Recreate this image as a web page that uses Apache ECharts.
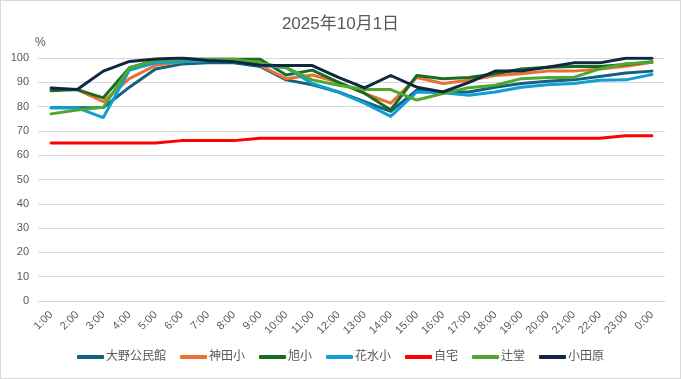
<!DOCTYPE html>
<html><head><meta charset="utf-8">
<script src="https://cdn.jsdelivr.net/npm/echarts@6/dist/echarts.min.js"></script>
<style>html,body{margin:0;padding:0;background:#fff}#c{width:681px;height:379px;box-sizing:border-box;border:1px solid #d9d9d9}</style>
</head><body><div id="c"></div>
<script>
const categories = ['1:00','2:00','3:00','4:00','5:00','6:00','7:00','8:00','9:00','10:00','11:00','12:00','13:00','14:00','15:00','16:00','17:00','18:00','19:00','20:00','21:00','22:00','23:00','0:00'];
const yTicks = [0,10,20,30,40,50,60,70,80,90,100];
const ono     = [79.5,79.5,79.6,88,95.5,97.5,98,98,96.5,91,89,86,82,78,86.8,86,86,88,89.5,90.4,91,92.4,93.8,94.6];
const kanda   = [87,87,82,91.5,97,98.5,99,99,97,91.5,93,90,85.4,81.4,92,89.5,90.8,92.8,93.5,94.6,94.6,95.5,96.6,98.2];
const asahi   = [86.5,87,83.6,96,99,99.5,99.5,99.5,99.5,93,95,90,85.5,78.6,92.8,91.5,92,93.5,95.5,96.2,96.5,96.5,97.3,98.5];
const hanamizu= [79.5,79.5,75.5,95,98,98.5,99,98.5,97,96,89.5,86,81.4,76,86,85.7,84.7,86,88,89,89.5,90.8,91,93.2];
const home    = [65,65,65,65,65,66,66,66,67,67,67,67,67,67,67,67,67,67,67,67,67,67,68,68];
const tsujido = [77,78.6,79.7,96,99,99.5,99.5,99.5,98,96,91,88.8,87,87,82.7,85.4,87.8,88.8,91.5,92,92,95.5,97.6,98.2];
const odawara = [87.7,87,94.6,98.6,99.6,100,99,98.5,97,96.9,96.9,92,87.7,92.8,88,86,90,94.6,94.6,96.2,98,98,99.9,99.9];

const names = ['大野公民館','神田小','旭小','花水小','自宅','辻堂','小田原'];
const datas = [ono,kanda,asahi,hanamizu,home,tsujido,odawara];
const colors = ['#156082','#E97132','#196B24','#0F9ED5','#FF0000','#4EA72E','#0E2841'];
const chart = echarts.init(document.getElementById('c'), null, {renderer:'canvas'});
const font = 'Liberation Sans, Noto Sans CJK JP, sans-serif';
chart.setOption({
  animation:false,
  color: colors,
  title:{text:'2025年10月1日', left:'center', top:10, textStyle:{fontFamily:font, fontSize:17, fontWeight:'normal', color:'#595959'}},
  grid:{left:37, right:15, top:57, bottom:77, containLabel:false},
  legend:{bottom:10, left:'center', itemWidth:27, itemHeight:4, itemGap:14, icon:'roundRect',
    textStyle:{fontFamily:font, fontSize:12, color:'#595959', padding:[0,0,0,-3]}, data:names},
  xAxis:{type:'category', data:categories, boundaryGap:true,
    axisLine:{lineStyle:{color:'#d9d9d9'}}, axisTick:{show:false},
    axisLabel:{rotate:45, interval:0, fontFamily:font, fontSize:11, color:'#595959', margin:12}},
  yAxis:{type:'value', min:yTicks[0], max:yTicks[yTicks.length-1], interval:10, name:'%',
    nameLocation:'end', nameGap:9, nameTextStyle:{fontFamily:font, fontSize:12, color:'#595959', align:'left', padding:[0,0,0,-3]},
    axisLine:{show:false}, axisTick:{show:false},
    axisLabel:{fontFamily:font, fontSize:11, color:'#595959', margin:9},
    splitLine:{lineStyle:{color:'#d9d9d9'}}},
  series: names.map((n,i)=>({name:n, type:'line', data:datas[i], symbol:'none', smooth:false,
    lineStyle:{width:3, color:colors[i], cap:'round', join:'round'}, itemStyle:{color:colors[i]}}))
});
</script></body></html>
